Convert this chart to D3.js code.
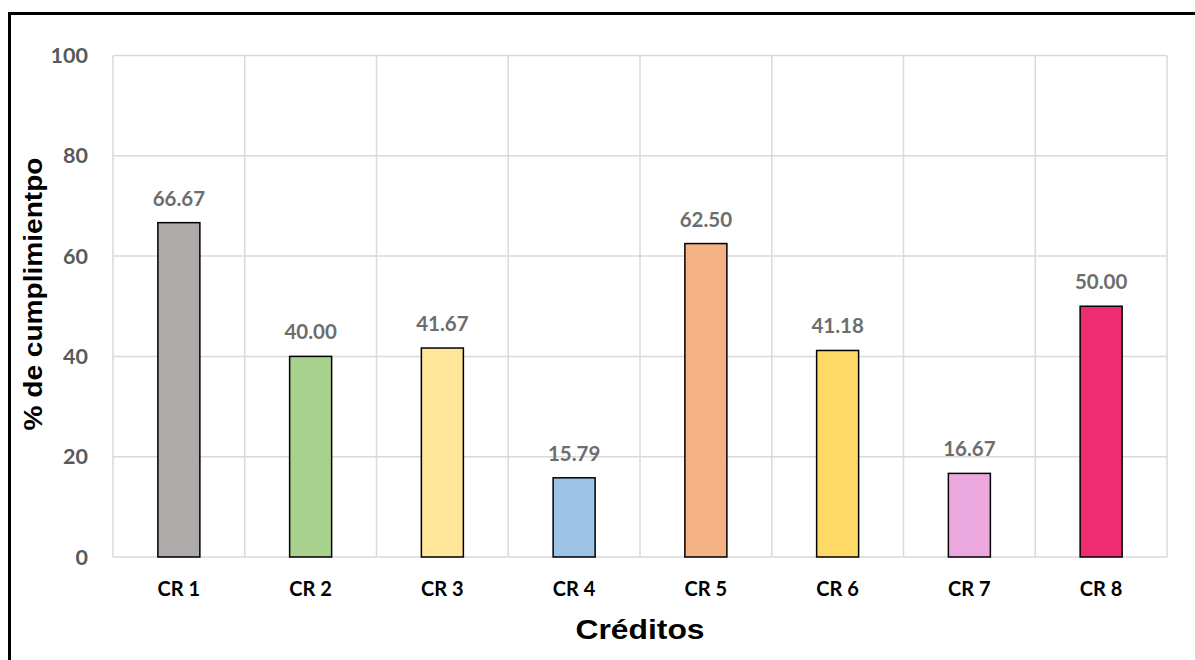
<!DOCTYPE html>
<html><head><meta charset="utf-8">
<script src="https://cdn.jsdelivr.net/npm/d3@7"></script>
<style>body{margin:0;background:#fff}</style>
</head><body>
<script>
const categories = ["CR 1","CR 2","CR 3","CR 4","CR 5","CR 6","CR 7","CR 8"];
const values = [66.67, 40.00, 41.67, 15.79, 62.50, 41.18, 16.67, 50.00];
const colors = ["#AEAAAA","#A9D18E","#FFE699","#9DC3E6","#F4B183","#FFD966","#EBA8DE","#EE2C72"];
const yTicks = [0,20,40,60,80,100];

const W=1195,H=660;
const m={left:113,right:1167,top:55.5,bottom:557};
const svg=d3.select("body").append("svg").attr("width",W).attr("height",H);
svg.append("rect").attr("x",9.5).attr("y",13.5).attr("width",1300).attr("height",800)
  .attr("fill","none").attr("stroke","#000").attr("stroke-width",3);

const x=d3.scaleBand().domain(categories).range([m.left,m.right]).paddingInner(0).paddingOuter(0);
const y=d3.scaleLinear().domain([0,100]).range([m.bottom,m.top]);

// grid
svg.append("g").selectAll("line.h").data(yTicks).join("line")
  .attr("x1",m.left).attr("x2",m.right).attr("y1",d=>y(d)).attr("y2",d=>y(d))
  .attr("stroke","#d9d9d9").attr("stroke-width",1.5);
const vx=categories.map(c=>x(c)).concat([x(categories[categories.length-1])+x.bandwidth()]);
svg.append("g").selectAll("line.v").data(vx).join("line")
  .attr("x1",d=>d).attr("x2",d=>d).attr("y1",m.top).attr("y2",m.bottom)
  .attr("stroke","#d9d9d9").attr("stroke-width",1.5);

const lblFont="Lato, 'Open Sans', sans-serif";
// y ticks
svg.append("g").selectAll("text").data(yTicks).join("text")
  .attr("x",88).attr("y",d=>y(d)).attr("dy","0.35em").attr("text-anchor","end")
  .attr("font-family",lblFont).attr("font-weight","bold")
  .attr("font-size",21.5).attr("fill","#595959").text(d=>d);

// bars
const bw=42;
svg.append("g").selectAll("rect").data(values).join("rect")
  .attr("x",(d,i)=>x(categories[i])+x.bandwidth()/2-bw/2)
  .attr("y",d=>y(d)).attr("width",bw).attr("height",d=>y(0)-y(d))
  .attr("fill",(d,i)=>colors[i]).attr("stroke","#000").attr("stroke-width",1.5);

// data labels
svg.append("g").selectAll("text").data(values).join("text")
  .attr("x",(d,i)=>x(categories[i])+x.bandwidth()/2)
  .attr("y",d=>y(d)-17).attr("text-anchor","middle")
  .attr("font-family",lblFont).attr("font-weight","bold")
  .attr("font-size",20.5).attr("fill","#6d6d6d").text(d=>d.toFixed(2));

// category labels
svg.append("g").selectAll("text").data(categories).join("text")
  .attr("x",d=>x(d)+x.bandwidth()/2).attr("y",596).attr("text-anchor","middle")
  .attr("font-family",lblFont).attr("font-weight","bold")
  .attr("font-size",20).attr("fill","#000").text(d=>d);

// axis titles
svg.append("text").attr("transform","translate(640,639) scale(1.18,1)").attr("text-anchor","middle")
  .attr("font-family","'Liberation Sans', Arial, sans-serif").attr("font-weight","bold")
  .attr("font-size",27).attr("fill","#000").text("Créditos");
svg.append("text").attr("transform","translate(42,294) rotate(-90) scale(1.08,1)").attr("text-anchor","middle")
  .attr("font-family","'Liberation Sans', Arial, sans-serif").attr("font-weight","bold")
  .attr("font-size",26).attr("fill","#000").text("% de cumplimientpo");
</script>
</body></html>
